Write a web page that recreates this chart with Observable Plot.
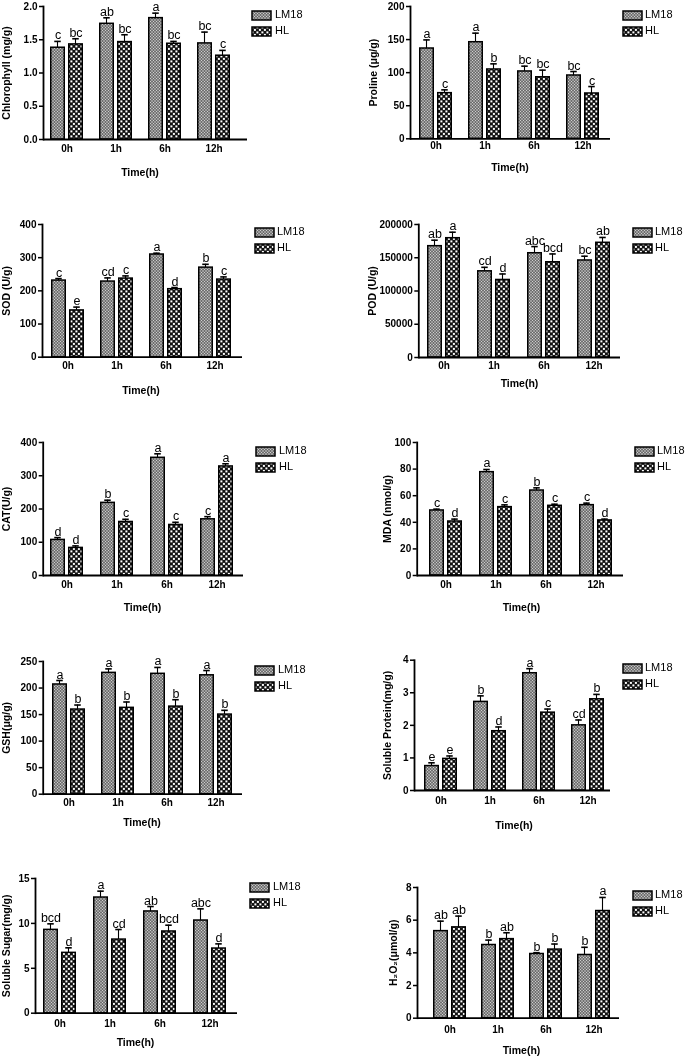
<!DOCTYPE html>
<html>
<head>
<meta charset="utf-8">
<script src="https://cdn.jsdelivr.net/npm/d3@7"></script>
<script src="https://cdn.jsdelivr.net/npm/@observablehq/plot@0.6"></script>
<style>
  html, body { margin: 0; padding: 0; background: #fff; }
  #page { position: relative; width: 685px; height: 1057px; overflow: hidden; background: #fff; font-family: "Liberation Sans", Arial, sans-serif; }
  .panel { position: absolute; will-change: transform; }
  .leg { position: absolute; font-size: 11px; color: #000; line-height: 11px; white-space: nowrap; }
</style>
</head>
<body>
<svg width="0" height="0" style="position:absolute">
  <defs>
    <pattern id="patLM18" width="3" height="3" patternUnits="userSpaceOnUse">
      <rect width="3" height="3" fill="#8a8a8a"/>
      <rect width="1" height="1" fill="#d0d0d0"/>
      <rect x="1.5" y="1.5" width="1" height="1" fill="#cfcfcf"/>
      <rect x="1.5" y="0" width="1" height="1" fill="#555"/>
      <rect x="0" y="1.5" width="1" height="1" fill="#555"/>
    </pattern>
    <pattern id="patHL" width="5" height="5" patternUnits="userSpaceOnUse">
      <rect width="5" height="5" fill="#111"/>
      <rect x="0.4" y="0.4" width="2" height="2" fill="#fff"/>
      <rect x="2.9" y="2.9" width="2" height="2" fill="#fff"/>
    </pattern>
  </defs>
</svg>
<div id="page"></div>
<script>
// ---------- data ----------
const times = ["0h", "1h", "6h", "12h"];
const genotypes = ["LM18", "HL"];

const chlLM18 = [1.38, 1.74, 1.825, 1.445];
const chlLM18SE = [0.095, 0.09, 0.075, 0.17];
const chlHL = [1.43, 1.465, 1.44, 1.26];
const chlHLSE = [0.085, 0.11, 0.035, 0.08];
const chlLM18Letters = ["c", "ab", "a", "bc"];
const chlHLLetters = ["bc", "bc", "bc", "c"];
const chlTicks = [0, 0.5, 1.0, 1.5, 2.0];

const proLM18 = [136.5, 146, 101.8, 95.7];
const proLM18SE = [13, 13.7, 8, 6];
const proHL = [69, 104.8, 93, 68.5];
const proHLSE = [5, 8.5, 10.8, 10.5];
const proLM18Letters = ["a", "a", "bc", "bc"];
const proHLLetters = ["c", "b", "bc", "c"];
const proTicks = [0, 50, 100, 150, 200];

const sodLM18 = [231, 228, 309.5, 270];
const sodLM18SE = [6, 11, 4, 10];
const sodHL = [141, 237, 205, 234];
const sodHLSE = [10, 8, 5, 8];
const sodLM18Letters = ["c", "cd", "a", "b"];
const sodHLLetters = ["e", "c", "d", "c"];
const sodTicks = [0, 100, 200, 300, 400];

const podLM18 = [167400, 129600, 156800, 145900];
const podLM18SE = [9000, 6000, 10000, 6400];
const podHL = [179400, 116600, 143200, 172500];
const podHLSE = [9000, 9000, 12500, 8000];
const podLM18Letters = ["ab", "cd", "abc", "bc"];
const podHLLetters = ["a", "d", "bcd", "ab"];
const podTicks = [0, 50000, 100000, 150000, 200000];

const catLM18 = [107, 218.5, 354, 169];
const catLM18SE = [7, 8, 12, 8];
const catHL = [83, 161, 152, 328];
const catHLSE = [6, 8, 8, 8];
const catLM18Letters = ["d", "b", "a", "c"];
const catHLLetters = ["d", "c", "c", "a"];
const catTicks = [0, 100, 200, 300, 400];

const mdaLM18 = [48.9, 77.7, 63.9, 52.9];
const mdaLM18SE = [1, 2, 2, 1.5];
const mdaHL = [40.6, 51.4, 52.4, 41.4];
const mdaHLSE = [1.8, 1.7, 1.2, 1];
const mdaLM18Letters = ["c", "a", "b", "c"];
const mdaHLLetters = ["d", "c", "c", "d"];
const mdaTicks = [0, 20, 40, 60, 80, 100];

const gshLM18 = [206.7, 228.6, 226.8, 224];
const gshLM18SE = [7.5, 7.5, 12, 9];
const gshHL = [159.5, 162.7, 165, 150];
const gshHLSE = [8.5, 11, 13, 8];
const gshLM18Letters = ["a", "a", "a", "a"];
const gshHLLetters = ["b", "b", "b", "b"];
const gshTicks = [0, 50, 100, 150, 200, 250];

const sprLM18 = [0.75, 2.72, 3.60, 2.0];
const sprLM18SE = [0.1, 0.185, 0.14, 0.165];
const sprHL = [0.97, 1.82, 2.39, 2.80];
const sprHLSE = [0.09, 0.13, 0.11, 0.15];
const sprLM18Letters = ["e", "b", "a", "cd"];
const sprHLLetters = ["e", "d", "c", "b"];
const sprTicks = [0, 1, 2, 3, 4];

const ssgLM18 = [9.28, 12.88, 11.33, 10.32];
const ssgLM18SE = [0.67, 0.71, 0.55, 1.3];
const ssgHL = [6.72, 8.2, 9.1, 7.2];
const ssgHLSE = [0.56, 1.12, 0.7, 0.52];
const ssgLM18Letters = ["bcd", "a", "ab", "abc"];
const ssgHLLetters = ["d", "cd", "bcd", "d"];
const ssgTicks = [0, 5, 10, 15];

const h2oLM18 = [5.33, 4.48, 3.93, 3.87];
const h2oLM18SE = [0.61, 0.3, 0.08, 0.47];
const h2oHL = [5.56, 4.84, 4.20, 6.56];
const h2oHLSE = [0.69, 0.39, 0.34, 0.83];
const h2oLM18Letters = ["ab", "b", "b", "b"];
const h2oHLLetters = ["ab", "ab", "b", "a"];
const h2oTicks = [0, 2, 4, 6, 8];

// ---------- panel definitions (data refs + layout) ----------
const rowTop = [0, 200, 400, 620, 840];
const rowH = [200, 200, 220, 220, 217];

const panels = [
  {col: 0, row: 0, label: "Chlorophyll (mg/g)", lm: chlLM18, lmSE: chlLM18SE, hl: chlHL, hlSE: chlHLSE, lmL: chlLM18Letters, hlL: chlHLLetters, ticks: chlTicks, fmt: ".1f",
   L: {axisX: 43, yTop: 6, y0: 139, xEnd: 247, r0: 48, r1: 231, timeY: 172, xOff: 5, labelX: 6, legX: 252, legY: 15, legT: 275}},
  {col: 1, row: 0, label: "Proline (\u03bcg/g)", lm: proLM18, lmSE: proLM18SE, hl: proHL, hlSE: proHLSE, lmL: proLM18Letters, hlL: proHLLetters, ticks: proTicks, fmt: "d",
   L: {axisX: 410, yTop: 6, y0: 138.3, xEnd: 610, r0: 419, r1: 600, timeY: 167, xOff: 3.5, labelX: 373, legX: 623, legY: 15, legT: 645}},
  {col: 0, row: 1, label: "SOD (U/g)", lm: sodLM18, lmSE: sodLM18SE, hl: sodHL, hlSE: sodHLSE, lmL: sodLM18Letters, hlL: sodHLLetters, ticks: sodTicks, fmt: "d",
   L: {axisX: 42, yTop: 224, y0: 356.7, xEnd: 242, r0: 49, r1: 232, timeY: 390, xOff: 5, labelX: 6, legX: 255, legY: 232, legT: 277}},
  {col: 1, row: 1, label: "POD (U/g)", lm: podLM18, lmSE: podLM18SE, hl: podHL, hlSE: podHLSE, lmL: podLM18Letters, hlL: podHLLetters, ticks: podTicks, fmt: "d",
   L: {axisX: 418.3, yTop: 224, y0: 357, xEnd: 620, r0: 427, r1: 611, timeY: 383, xOff: 4.7, labelX: 372.5, legX: 633, legY: 232, legT: 655}},
  {col: 0, row: 2, label: "CAT(U/g)", lm: catLM18, lmSE: catLM18SE, hl: catHL, hlSE: catHLSE, lmL: catLM18Letters, hlL: catHLLetters, ticks: catTicks, fmt: "d",
   L: {axisX: 42.7, yTop: 442, y0: 575, xEnd: 243, r0: 50, r1: 234, timeY: 607, xOff: 5, labelX: 6, legX: 256, legY: 451, legT: 279}},
  {col: 1, row: 2, label: "MDA (nmol/g)", lm: mdaLM18, lmSE: mdaLM18SE, hl: mdaHL, hlSE: mdaHLSE, lmL: mdaLM18Letters, hlL: mdaHLLetters, ticks: mdaTicks, fmt: "d",
   L: {axisX: 416.7, yTop: 442, y0: 575, xEnd: 623, r0: 429, r1: 613, timeY: 607, xOff: 5, labelX: 387, legX: 635, legY: 451, legT: 657}},
  {col: 0, row: 3, label: "GSH(\u03bcg/g)", lm: gshLM18, lmSE: gshLM18SE, hl: gshHL, hlSE: gshHLSE, lmL: gshLM18Letters, hlL: gshHLLetters, ticks: gshTicks, fmt: "d",
   L: {axisX: 42.7, yTop: 661, y0: 793.7, xEnd: 242, r0: 50, r1: 233, timeY: 822, xOff: 5, labelX: 6, legX: 255, legY: 670, legT: 278}},
  {col: 1, row: 3, label: "Soluble Protein(mg/g)", lm: sprLM18, lmSE: sprLM18SE, hl: sprHL, hlSE: sprHLSE, lmL: sprLM18Letters, hlL: sprHLLetters, ticks: sprTicks, fmt: "d",
   L: {axisX: 414, yTop: 659.7, y0: 790, xEnd: 610, r0: 422, r1: 605, timeY: 825, xOff: 6.7, labelX: 387, legX: 623, legY: 668, legT: 645}},
  {col: 0, row: 4, label: "Soluble Sugar(mg/g)", lm: ssgLM18, lmSE: ssgLM18SE, hl: ssgHL, hlSE: ssgHLSE, lmL: ssgLM18Letters, hlL: ssgHLLetters, ticks: ssgTicks, fmt: "d",
   L: {axisX: 35, yTop: 878, y0: 1012.7, xEnd: 237, r0: 43, r1: 227, timeY: 1042, xOff: 6.3, labelX: 6, legX: 250, legY: 887, legT: 273}},
  {col: 1, row: 4, label: "H\u2082O\u2082(\u03bcmol/g)", lm: h2oLM18, lmSE: h2oLM18SE, hl: h2oHL, hlSE: h2oHLSE, lmL: h2oLM18Letters, hlL: h2oHLLetters, ticks: h2oTicks, fmt: "d",
   L: {axisX: 417, yTop: 887, y0: 1017.7, xEnd: 619, r0: 431, r1: 611, timeY: 1050, xOff: 7.6, labelX: 393.5, legX: 633, legY: 895, legT: 655}}
];

const fills = {LM18: "url(#patLM18)", HL: "url(#patHL)"};
const barW = 15.5, gap = 2.5;
const bw = 2 * barW + gap;
const capW = 7;
const page = document.getElementById("page");

for (const p of panels) {
  const L = p.L;
  const colX = p.col ? 340 : 0;
  const W = p.col ? 345 : 340;
  const top = rowTop[p.row], H = rowH[p.row];
  const step = (L.r1 - L.r0 - bw) / (times.length - 1);
  const pi = 1 - bw / step;

  const rows = times.flatMap((t, i) => [
    {time: t, geno: "LM18", v: p.lm[i], se: p.lmSE[i], letter: p.lmL[i]},
    {time: t, geno: "HL", v: p.hl[i], se: p.hlSE[i], letter: p.hlL[i]}
  ]);
  const lmRows = rows.filter(d => d.geno === "LM18");
  const hlRows = rows.filter(d => d.geno === "HL");

  const seriesMarks = (data, isLM) => {
    const c = isLM ? barW / 2 : bw - barW / 2; // bar centre within band
    return [
      Plot.barY(data, {x: "time", y1: "v", y2: d => d.v + d.se, fill: "#000",
        insetLeft: c - 0.8, insetRight: bw - c - 0.8}),
      Plot.tickY(data, {x: "time", y: d => d.v + d.se, stroke: "#000", strokeWidth: 1.6,
        insetLeft: c - capW / 2, insetRight: bw - c - capW / 2}),
      Plot.barY(data, {x: "time", y: "v", fill: fills[data[0].geno], stroke: "#000", strokeWidth: 1.5,
        insetLeft: isLM ? 0.75 : bw - barW + 0.75, insetRight: isLM ? bw - barW + 0.75 : 0.75}),
      Plot.text(data, {x: "time", y: d => d.v + d.se, text: "letter", dx: c - bw / 2, dy: -2,
        lineAnchor: "bottom", fontSize: 12.5, fontWeight: "normal", fill: "#000"})
    ];
  };

  const frameMid = (L.axisX + L.xEnd) / 2;
  const barsMid = (L.r0 + L.r1) / 2;

  const svg = Plot.plot({
    width: W, height: H,
    marginLeft: L.axisX - colX,
    marginRight: colX + W - L.xEnd,
    marginTop: L.yTop - top,
    marginBottom: top + H - L.y0,
    style: {fontFamily: "'Liberation Sans', Arial, sans-serif", fontSize: "10px", fontWeight: "bold", color: "#000", background: "transparent", overflow: "visible"},
    x: {domain: times, range: [L.r0 - colX, L.r1 - colX], paddingInner: pi, paddingOuter: 0, tickSize: 0, tickPadding: L.xOff, label: null},
    y: {domain: [0, p.ticks[p.ticks.length - 1]], ticks: p.ticks, tickFormat: d3.format(p.fmt), tickSize: 4, tickPadding: 2, label: null, line: true},
    marks: [
      ...seriesMarks(lmRows, true),
      ...seriesMarks(hlRows, false),
      Plot.ruleY([0], {stroke: "#000", strokeWidth: 1.8}),
      Plot.text([p.label], {text: d => d, frameAnchor: "left", textAnchor: "middle", lineAnchor: "middle", rotate: -90, dx: L.labelX - L.axisX,
        fontSize: 10.5, fontWeight: "bold", fill: "#000"}),
      Plot.text(["Time(h)"], {text: d => d, frameAnchor: "bottom", lineAnchor: "middle", dy: L.timeY - L.y0, dx: barsMid - frameMid,
        fontSize: 10.5, fontWeight: "bold", fill: "#000"})
    ]
  });
  svg.querySelectorAll('[aria-label^="y-axis tick"] path, [aria-label^="y-axis tick"] line').forEach(e => e.setAttribute("stroke-width", 1.5));
  svg.querySelectorAll('[aria-label="frame"], [aria-label="y-axis line"], [aria-label="frame"] *').forEach(e => e.setAttribute("stroke-width", 1.8));

  const wrap = document.createElement("div");
  wrap.className = "panel";
  wrap.style.left = colX + "px";
  wrap.style.top = top + "px";
  wrap.appendChild(svg);
  page.appendChild(wrap);

  // legend (HTML, outside the SVG)
  genotypes.forEach((g, k) => {
    const cy = L.legY + k * 16;
    const sw = document.createElementNS("http://www.w3.org/2000/svg", "svg");
    sw.setAttribute("width", 21); sw.setAttribute("height", 11);
    sw.style.position = "absolute";
    sw.style.left = (L.legX - 1) + "px";
    sw.style.top = (cy - 5.5) + "px";
    const r = document.createElementNS("http://www.w3.org/2000/svg", "rect");
    r.setAttribute("x", 1); r.setAttribute("y", 1); r.setAttribute("width", 19); r.setAttribute("height", 9);
    r.setAttribute("fill", fills[g]); r.setAttribute("stroke", "#000"); r.setAttribute("stroke-width", 1.5);
    sw.appendChild(r);
    page.appendChild(sw);
    const t = document.createElement("div");
    t.className = "leg";
    t.textContent = g;
    t.style.left = L.legT + "px";
    t.style.top = (cy - 6) + "px";
    page.appendChild(t);
  });
}
</script>
</body>
</html>
